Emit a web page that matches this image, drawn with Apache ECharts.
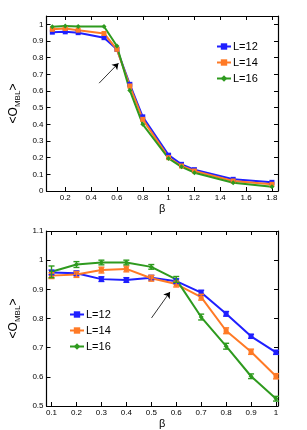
<!DOCTYPE html>
<html><head><meta charset="utf-8">
<script src="https://cdn.jsdelivr.net/npm/echarts@6/dist/echarts.min.js"></script>
<style>html,body{margin:0;padding:0;background:#fff}#c{width:307px;height:430px}</style>
</head><body><div id="c"></div>
<script>
// ---- Data (top panel) ----
const topX = [0.1, 0.2, 0.3, 0.5, 0.6, 0.7, 0.8, 1.0, 1.1, 1.2, 1.5, 1.8];
const topL12 = [0.953, 0.955, 0.950, 0.920, 0.850, 0.640, 0.445, 0.215, 0.160, 0.128, 0.070, 0.052];
const topL14 = [0.970, 0.975, 0.965, 0.945, 0.850, 0.630, 0.430, 0.200, 0.150, 0.120, 0.060, 0.040];
const topL16 = [0.986, 0.990, 0.987, 0.987, 0.870, 0.603, 0.400, 0.195, 0.145, 0.110, 0.050, 0.025];
const topXTicks = [0.2, 0.4, 0.6, 0.8, 1.0, 1.2, 1.4, 1.6, 1.8];
const topYTicks = [0, 0.1, 0.2, 0.3, 0.4, 0.5, 0.6, 0.7, 0.8, 0.9, 1.0];
// ---- Data (bottom panel) ----
const botX = [0.1, 0.2, 0.3, 0.4, 0.5, 0.6, 0.7, 0.8, 0.9, 1.0];
const botL12 = [0.958, 0.955, 0.935, 0.932, 0.940, 0.928, 0.889, 0.816, 0.739, 0.684];
const botL14 = [0.947, 0.951, 0.966, 0.970, 0.938, 0.918, 0.873, 0.758, 0.686, 0.602];
const botL16 = [0.960, 0.985, 0.992, 0.992, 0.977, 0.934, 0.805, 0.705, 0.602, 0.525];
const botE12 = [0.008, 0.008, 0.008, 0.008, 0.008, 0.008, 0.008, 0.008, 0.007, 0.007];
const botE14 = [0.010, 0.010, 0.010, 0.010, 0.010, 0.010, 0.010, 0.010, 0.009, 0.009];
const botE16 = [0.020, 0.010, 0.008, 0.008, 0.008, 0.010, 0.010, 0.010, 0.008, 0.008];
const botXTicks = [0.1, 0.2, 0.3, 0.4, 0.5, 0.6, 0.7, 0.8, 0.9, 1.0];
const botYTicks = [0.5, 0.6, 0.7, 0.8, 0.9, 1.0, 1.1];
const names = ['L=12', 'L=14', 'L=16'];
const colors = ['#1f1fff', '#ff7a26', '#2e9a1e'];
const symbols = ['rect', 'rect', 'diamond'];
// arrows (data coordinates)
const topArrow = [[0.462, 0.647], [0.612, 0.767]];
const botArrow = [[0.501, 0.802], [0.575, 0.891]];

const FONT = 'Liberation Sans';
const fmt = v => String(+v.toFixed(2));

function zip(xs, ys) { return xs.map((x, i) => [x, ys[i]]); }

function mkXAxis(gi, min, max, ticks, pos) {
  const main = pos === 'bottom';
  return {
    type: 'value', gridIndex: gi, position: pos, min, max,
    name: main ? 'β' : '', nameLocation: 'middle', nameGap: 12,
    nameTextStyle: { fontFamily: FONT, fontSize: 11, color: '#000' },
    axisLine: { show: true, onZero: false, lineStyle: { color: '#000', width: 1.2 } },
    axisTick: { show: true, inside: true, length: 4, customValues: ticks, lineStyle: { color: '#000' } },
    axisLabel: { show: main, customValues: ticks, formatter: fmt, fontFamily: FONT, fontSize: 8, color: '#000', margin: 3 },
    splitLine: { show: false }
  };
}
function mkYAxis(gi, min, max, ticks, pos) {
  const main = pos === 'left';
  return {
    type: 'value', gridIndex: gi, position: pos, min, max,
    name: main ? '{a|<O}{b|MBL}{a|>}' : '', nameLocation: 'middle', nameGap: 20,
    nameTextStyle: { fontFamily: FONT, rich: { a: { fontFamily: FONT, fontSize: 12, color: '#000' }, b: { fontFamily: FONT, fontSize: 8, color: '#000', padding: [7, 0, 0, 0] } } },
    axisLine: { show: true, onZero: false, lineStyle: { color: '#000', width: 1.2 } },
    axisTick: { show: true, inside: true, length: 4, customValues: ticks, lineStyle: { color: '#000' } },
    axisLabel: { show: main, customValues: ticks, formatter: fmt, fontFamily: FONT, fontSize: 8, color: '#000', margin: 3 },
    splitLine: { show: false }
  };
}

const series = [];
const tops = [topL12, topL14, topL16];
const bots = [botL12, botL14, botL16];
const errs = [botE12, botE14, botE16];
for (let i = 0; i < 3; i++) {
  series.push({
    type: 'line', name: names[i], xAxisIndex: 0, yAxisIndex: 0, data: zip(topX, tops[i]),
    symbol: symbols[i], symbolSize: 5, color: colors[i], lineStyle: { width: 2 }, z: 3,
    markLine: i === 0 ? { silent: true, symbol: ['none', 'arrow'], symbolSize: 6, label: { show: false },
      lineStyle: { color: '#000', width: 0.8, type: 'solid' }, data: [[{ coord: topArrow[0] }, { coord: topArrow[1] }]] } : undefined
  });
}
for (let i = 0; i < 3; i++) {
  series.push({
    type: 'line', name: names[i], xAxisIndex: 2, yAxisIndex: 2, data: zip(botX, bots[i]),
    symbol: symbols[i], symbolSize: 5, color: colors[i], lineStyle: { width: 2 }, z: 3,
    markLine: i === 0 ? { silent: true, symbol: ['none', 'arrow'], symbolSize: 6, label: { show: false },
      lineStyle: { color: '#000', width: 0.8, type: 'solid' }, data: [[{ coord: botArrow[0] }, { coord: botArrow[1] }]] } : undefined
  });
  series.push({
    type: 'custom', name: names[i], xAxisIndex: 2, yAxisIndex: 2, z: 4,
    data: botX.map((x, k) => [x, bots[i][k] - errs[i][k], bots[i][k] + errs[i][k]]),
    renderItem: function (params, api) {
      const lo = api.coord([api.value(0), api.value(1)]);
      const hi = api.coord([api.value(0), api.value(2)]);
      const w = 3;
      const st = { stroke: colors[i], lineWidth: 1.4 };
      return { type: 'group', children: [
        { type: 'line', shape: { x1: lo[0], y1: lo[1], x2: hi[0], y2: hi[1] }, style: st },
        { type: 'line', shape: { x1: lo[0] - w, y1: lo[1], x2: lo[0] + w, y2: lo[1] }, style: st },
        { type: 'line', shape: { x1: hi[0] - w, y1: hi[1], x2: hi[0] + w, y2: hi[1] }, style: st }
      ] };
    }
  });
}

const legendBase = {
  orient: 'vertical', itemWidth: 14, itemHeight: 8, itemGap: 5, data: names,
  textStyle: { fontFamily: FONT, fontSize: 11, color: '#000', padding: [0, 0, 0, -3] }, selectedMode: false, padding: 0
};

const option = {
  animation: false,
  backgroundColor: '#fff',
  textStyle: { fontFamily: FONT },
  grid: [
    { left: 40, top: 16, width: 238, height: 175 },
    { left: 40, top: 231, width: 238, height: 176 }
  ],
  legend: [
    Object.assign({ left: 216, top: 41 }, legendBase),
    Object.assign({ left: 69, top: 309 }, legendBase)
  ],
  xAxis: [
    mkXAxis(0, 0.055, 1.847, topXTicks, 'bottom'),
    mkXAxis(0, 0.055, 1.847, topXTicks, 'top'),
    mkXAxis(1, 0.08, 1.008, botXTicks, 'bottom'),
    mkXAxis(1, 0.08, 1.008, botXTicks, 'top')
  ],
  yAxis: [
    mkYAxis(0, 0, 1.05, topYTicks, 'left'),
    mkYAxis(0, 0, 1.05, topYTicks, 'right'),
    mkYAxis(1, 0.5, 1.1, botYTicks, 'left'),
    mkYAxis(1, 0.5, 1.1, botYTicks, 'right')
  ],
  series: series
};
const chart = echarts.init(document.getElementById('c'), null, { renderer: 'canvas' });
chart.setOption(option);
</script>
</body></html>
